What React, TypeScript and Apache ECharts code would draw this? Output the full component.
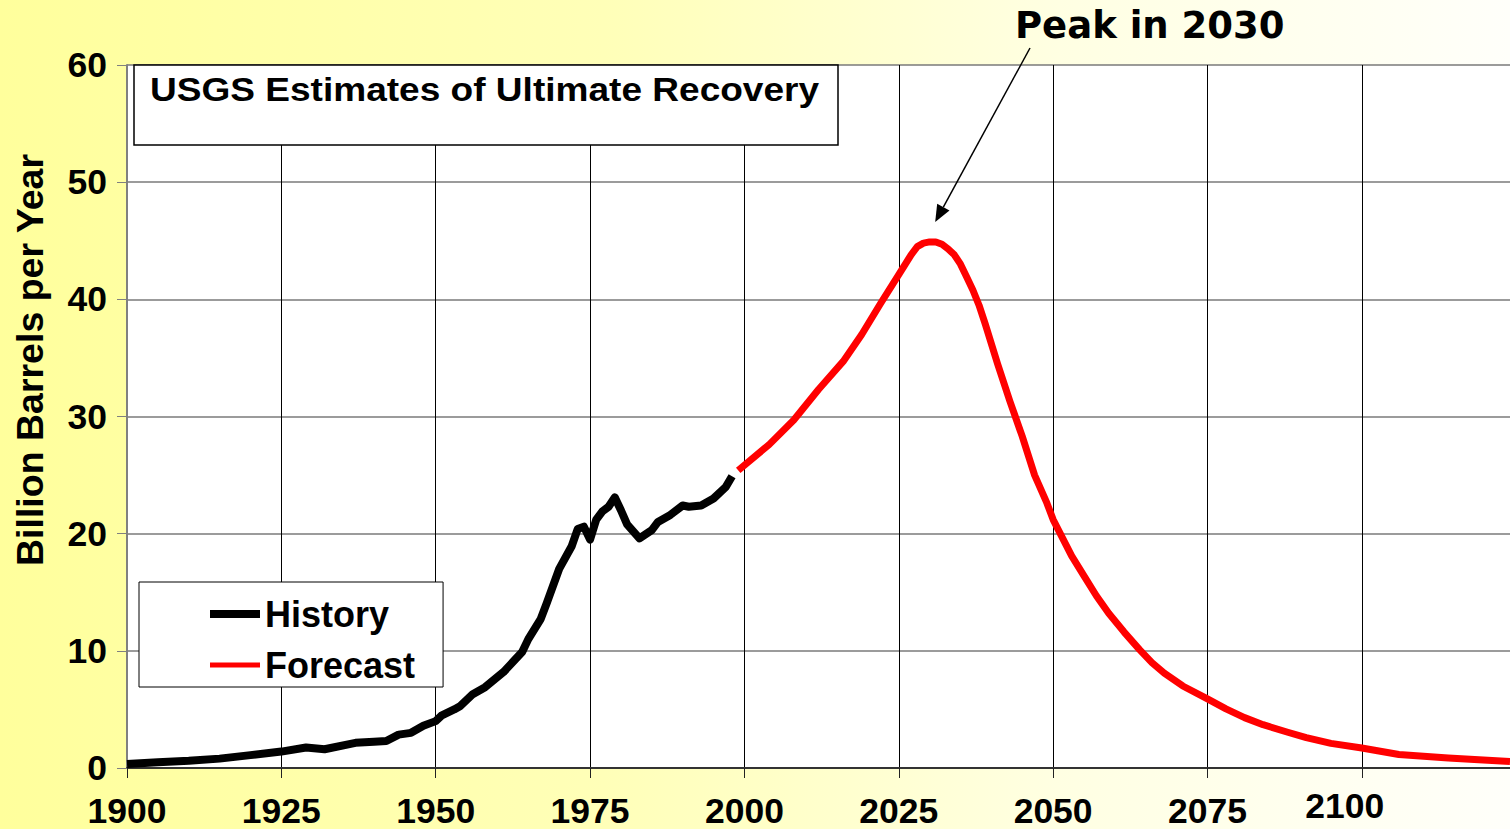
import React, { useEffect, useRef } from "react";
import * as echarts from "echarts";

const historyYears = [1900, 1905, 1910, 1915, 1920, 1925, 1929, 1932, 1937, 1940, 1942, 1944, 1946, 1948, 1950, 1951, 1953, 1954, 1956, 1958, 1961, 1964, 1965, 1967, 1968, 1970, 1972, 1973, 1974, 1975, 1976, 1977, 1978, 1979, 1980, 1981, 1983, 1985, 1986, 1988, 1990, 1991, 1993, 1995, 1997, 1998];
const historyValues = [0.35, 0.5, 0.62, 0.8, 1.1, 1.4, 1.75, 1.6, 2.15, 2.25, 2.3, 2.85, 3.0, 3.6, 4.0, 4.5, 5.0, 5.3, 6.3, 6.9, 8.2, 9.9, 11.0, 12.7, 14.1, 17.0, 18.9, 20.4, 20.6, 19.5, 21.2, 21.9, 22.3, 23.1, 22.0, 20.8, 19.6, 20.3, 21.0, 21.6, 22.4, 22.3, 22.4, 23.0, 24.0, 24.9];

const forecastYears = [1999, 2004, 2008, 2012, 2016, 2019, 2022, 2025, 2027, 2028, 2029, 2030, 2031, 2032, 2033, 2034, 2035, 2036, 2037, 2038, 2039, 2041, 2043, 2045, 2047, 2049, 2050, 2053, 2055, 2057, 2059, 2061.5, 2064, 2066, 2068, 2071, 2075, 2078, 2081, 2084, 2088, 2091, 2095, 2100, 2106, 2114, 2124];
const forecastValues = [25.4, 27.6, 29.7, 32.3, 34.7, 37.0, 39.6, 42.1, 43.8, 44.5, 44.8, 44.9, 44.9, 44.7, 44.3, 43.8, 43.0, 41.9, 40.8, 39.5, 37.9, 34.5, 31.3, 28.3, 25.0, 22.6, 21.2, 18.1, 16.4, 14.7, 13.2, 11.6, 10.1, 9.0, 8.1, 7.0, 5.9, 5.05, 4.3, 3.7, 3.05, 2.6, 2.1, 1.7, 1.15, 0.85, 0.55];

const xTickLabels = ["1900", "1925", "1950", "1975", "2000", "2025", "2050", "2075", "2100"];
const seriesNames = ["History", "Forecast"];
const titleText = "USGS Estimates of Ultimate Recovery";
const peakText = "Peak in 2030";
const peakPoint = [2030.9, 46.6];
const yAxisTitle = "Billion Barrels per Year";

const FONT = "'Liberation Sans', Arial, sans-serif";

export default function App() {
  const ref = useRef<HTMLDivElement>(null);

  useEffect(() => {
    const chart = echarts.init(ref.current!, null, { renderer: "svg" });
    const history = historyYears.map((y, i) => [y, historyValues[i]]);
    const forecast = forecastYears.map((y, i) => [y, forecastValues[i]]);

    chart.setOption({
      animation: false,
      backgroundColor: "transparent",
      textStyle: { fontFamily: FONT },
      grid: {
        left: 127,
        right: 0,
        top: 65,
        bottom: 61,
        show: true,
        backgroundColor: "#ffffff",
        borderWidth: 0,
      },
      xAxis: {
        type: "value",
        min: 1900,
        max: 2124,
        interval: 25,
        axisLine: { show: true, lineStyle: { color: "#333", width: 2 } },
        axisTick: { show: true, length: 10, lineStyle: { color: "#222", width: 1 } },
        splitLine: { show: true, lineStyle: { color: "#000", width: 1 } },
        axisLabel: {
          margin: 20,
          showMaxLabel: false,
          formatter: (v: number) => {
            const s = String(Math.round(v));
            if (!xTickLabels.includes(s)) return "";
            return s === "2100" ? `{s|${s}}` : `{n|${s}}`;
          },
          rich: {
            n: { fontSize: 35.5, fontWeight: "bold", color: "#000", fontFamily: FONT, padding: [5, 0, 0, 0] },
            s: { fontSize: 35.5, fontWeight: "bold", color: "#000", fontFamily: FONT, padding: [0, 34, 0, 0] },
          },
        },
      },
      yAxis: {
        type: "value",
        min: 0,
        max: 60,
        interval: 10,
        axisLine: { show: true, lineStyle: { color: "#808080", width: 2 } },
        axisTick: { show: true, length: 10, lineStyle: { color: "#808080", width: 1 } },
        splitLine: { show: true, lineStyle: { color: "#7a7a7a", width: 1.5 } },
        axisLabel: {
          margin: 20,
          fontSize: 35.5,
          fontWeight: "bold",
          color: "#000",
          fontFamily: FONT,
        },
      },
      legend: {
        orient: "vertical",
        left: 139,
        top: 582,
        itemWidth: 50,
        itemHeight: 8,
        itemGap: 11,
        padding: [12, 28, 2, 71],
        backgroundColor: "#fff",
        borderColor: "#000",
        borderWidth: 1,
        selectedMode: false,
        textStyle: { fontSize: 36, fontWeight: "bold", color: "#000", lineHeight: 40, fontFamily: FONT },
        data: [
          { name: seriesNames[0], icon: "path://M0,0H50V8H0Z" },
          { name: seriesNames[1], icon: "path://M0,0H50V5H0Z" },
        ],
      },
      series: [
        {
          name: seriesNames[0],
          type: "line",
          data: history,
          showSymbol: false,
          symbol: "none",
          smooth: false,
          itemStyle: { color: "#000" },
          lineStyle: { color: "#000", width: 8, join: "round", cap: "butt" },
          z: 3,
        },
        {
          name: seriesNames[1],
          type: "line",
          data: forecast,
          showSymbol: false,
          symbol: "none",
          smooth: false,
          itemStyle: { color: "#ff0000" },
          lineStyle: { color: "#ff0000", width: 7, join: "round", cap: "butt" },
          z: 3,
        },
      ],
    });

    const tip = chart.convertToPixel({ xAxisIndex: 0, yAxisIndex: 0 }, peakPoint) as number[];
    const start = [1030, 48];
    const dx = tip[0] - start[0];
    const dy = tip[1] - start[1];
    const len = Math.sqrt(dx * dx + dy * dy);
    const ux = dx / len;
    const uy = dy / len;
    const headLen = 17;
    const headHalf = 7;
    const bx = tip[0] - ux * headLen;
    const by = tip[1] - uy * headLen;

    chart.setOption({
      graphic: [
        {
          type: "rect",
          shape: { x: 134, y: 65, width: 704, height: 80 },
          style: { fill: "#fff", stroke: "#000", lineWidth: 1.5 },
          z: 10,
        },
        {
          type: "text",
          x: 150,
          y: 90,
          scaleX: 1.09,
          style: {
            text: titleText,
            font: `bold 34px ${FONT}`,
            fill: "#000",
            textAlign: "left",
            textVerticalAlign: "middle",
          },
          z: 11,
        },
        {
          type: "text",
          x: 30,
          y: 360,
          rotation: Math.PI / 2,
          style: {
            text: yAxisTitle,
            font: `bold 37.5px ${FONT}`,
            fill: "#000",
            textAlign: "center",
            textVerticalAlign: "middle",
          },
          z: 11,
        },
        {
          type: "text",
          x: 1015,
          y: 25,
          style: {
            text: peakText,
            font: `bold 37px 'DejaVu Sans', sans-serif`,
            fill: "#000",
            textAlign: "left",
            textVerticalAlign: "middle",
          },
          z: 11,
        },
        {
          type: "line",
          shape: { x1: start[0], y1: start[1], x2: bx, y2: by },
          style: { stroke: "#000", lineWidth: 1.5 },
          z: 11,
        },
        {
          type: "polygon",
          shape: {
            points: [
              [tip[0], tip[1]],
              [bx + uy * headHalf, by - ux * headHalf],
              [bx - uy * headHalf, by + ux * headHalf],
            ],
          },
          style: { fill: "#000" },
          z: 11,
        },
      ],
    });

    return () => chart.dispose();
  }, []);

  return (
    <div
      style={{
        position: "fixed",
        left: 0,
        top: 0,
        width: 1510,
        height: 829,
        background: "linear-gradient(90deg, #ffff9c 0%, #ffffb8 40%, #ffffe2 70%, #fffffa 100%)",
      }}
    >
      <div ref={ref} style={{ width: 1510, height: 829 }} />
    </div>
  );
}
